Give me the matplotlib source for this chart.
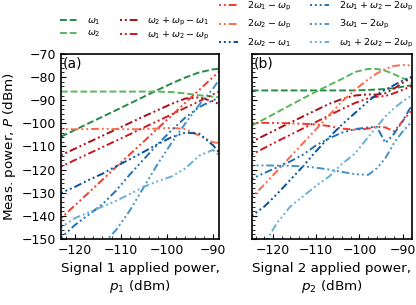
import numpy as np
import matplotlib
matplotlib.use("Agg")
import matplotlib.pyplot as plt
from matplotlib.ticker import AutoMinorLocator

# panel (a): signal 1 power sweep
xa = [-123, -120, -117, -114, -111, -108, -105, -102, -99, -96, -93, -90, -88.6]
a_w1 = [-105.8, -102.9, -100.0, -97.2, -94.3, -91.4, -88.5, -85.6, -82.8, -80.2, -78.0, -76.7, -76.4]
a_w2 = [-86.3, -86.3, -86.3, -86.3, -86.3, -86.3, -86.3, -86.3, -86.5, -87.1, -87.9, -88.5, -88.7]
a_w2pw1 = [-113.8, -111.0, -108.2, -105.4, -102.6, -99.8, -97.0, -94.3, -91.6, -89.3, -88.8, -90.5, -91.8]
a_w1w2p = [-118.7, -115.9, -113.1, -110.3, -107.5, -104.7, -101.8, -99.0, -96.2, -93.3, -90.5, -87.5, -86.2]
a_2w1p = [-141.0, -135.5, -130.0, -124.4, -118.8, -113.3, -107.8, -102.2, -96.7, -91.1, -85.6, -80.0, -77.5]
a_2w2p = [-102.5, -102.6, -102.5, -102.4, -102.5, -102.6, -102.5, -102.3, -102.0, -102.5, -105.3, -108.2, -108.5]
a_2w2w1 = [-130.1, -127.5, -124.5, -121.8, -118.5, -115.5, -112.3, -109.0, -106.0, -104.0, -104.5, -109.5, -112.8]
a_2w1w2 = [-149.5, -144.0, -139.5, -135.0, -129.0, -122.0, -115.5, -109.0, -103.0, -97.5, -93.0, -90.0, -89.0]
a_3w1 = [np.nan, np.nan, np.nan, -152.5, -146.0, -137.5, -127.5, -117.5, -108.5, -100.0, -92.0, -85.0, -81.0]
a_w12w2 = [-145.0, -141.0, -138.5, -136.0, -133.5, -130.5, -127.5, -125.0, -123.0, -119.5, -114.0, -111.5, -114.0]

# panel (b): signal 2 power sweep
xb = [-124.9, -122, -119, -116, -113, -110, -107, -104, -101, -98, -96, -94, -92, -90, -88]
b_w1 = [-85.8, -85.8, -85.8, -85.8, -85.8, -85.8, -85.8, -85.8, -85.8, -85.6, -85.4, -85.2, -84.8, -84.2, -83.6]
b_w2 = [-101.0, -98.2, -95.2, -92.2, -89.2, -86.3, -83.5, -80.8, -77.8, -76.5, -76.5, -77.3, -78.8, -80.5, -82.5]
b_w2pw1 = [-108.0, -105.3, -102.5, -99.7, -97.0, -94.3, -91.6, -89.5, -88.0, -87.5, -87.6, -87.0, -85.0, -82.5, -80.0]
b_w1w2p = [-113.5, -110.7, -107.8, -105.0, -102.2, -99.4, -96.6, -93.8, -91.2, -89.2, -88.5, -88.2, -87.0, -85.5, -84.0]
b_2w1p = [-99.8, -99.8, -99.9, -100.0, -100.2, -100.5, -101.2, -102.3, -102.8, -102.3, -101.5, -101.8, -103.5, -99.0, -94.5]
b_2w2p = [-132.0, -126.5, -120.5, -114.5, -108.5, -102.5, -96.5, -90.5, -85.5, -81.0, -78.5, -76.5, -75.2, -74.8, -75.0]
b_2w2w1 = [-140.0, -136.0, -130.5, -124.5, -118.5, -112.0, -106.0, -100.5, -95.5, -90.5, -87.5, -85.5, -83.5, -81.5, -80.0]
b_2w1w2 = [-124.0, -121.5, -119.0, -116.5, -113.5, -109.5, -106.5, -104.0, -102.5, -101.8, -101.5, -108.5, -104.5, -99.0, -92.5]
b_3w1 = [-118.2, -118.2, -118.3, -118.4, -118.6, -119.2, -120.0, -121.0, -122.0, -122.3, -119.5, -115.0, -108.5, -103.5, -99.5]
b_w12w2 = [np.nan, -152.0, -143.0, -136.0, -131.5, -127.0, -123.0, -117.5, -113.0, -106.0, -101.5, -97.0, -93.5, -90.5, -88.0]

labels = [r'$\omega_1$', r'$\omega_2$',
          r'$\omega_2 + \omega_\mathrm{p} - \omega_1$', r'$\omega_1 + \omega_2 - \omega_\mathrm{p}$',
          r'$2\omega_1 - \omega_\mathrm{p}$', r'$2\omega_2 - \omega_\mathrm{p}$', r'$2\omega_2 - \omega_1$',
          r'$2\omega_1 + \omega_2 - 2\omega_\mathrm{p}$', r'$3\omega_1 - 2\omega_\mathrm{p}$',
          r'$\omega_1 + 2\omega_2 - 2\omega_\mathrm{p}$']
colors = ['#238b45', '#5ab55e',
          '#a50f15', '#cb181d', '#ef3b2c', '#fb6a4a',
          '#08519c', '#2171b5', '#4292c6', '#6baed6']
dash = (0, (3.5, 1.5))
dd = (0, (1, 1.5, 1, 1.5, 4, 1.5))
ddd = (0, (1, 1.5, 1, 1.5, 1, 1.5, 4, 1.5))
styles = [dash, dash, dd, dd, dd, dd, ddd, ddd, ddd, ddd]

data_a = [a_w1, a_w2, a_w2pw1, a_w1w2p, a_2w1p, a_2w2p, a_2w2w1, a_2w1w2, a_3w1, a_w12w2]
data_b = [b_w1, b_w2, b_w2pw1, b_w1w2p, b_2w1p, b_2w2p, b_2w2w1, b_2w1w2, b_3w1, b_w12w2]

fig = plt.figure(figsize=(4.16, 3.05), dpi=100)
ax1 = fig.add_axes([0.1466, 0.2164, 0.381, 0.607])
ax2 = fig.add_axes([0.605, 0.2164, 0.385, 0.607])

lines = []
for y, c, ls in zip(data_a, colors, styles):
    l, = ax1.plot(xa, y, color=c, ls=ls, lw=1.4)
    lines.append(l)
for y, c, ls in zip(data_b, colors, styles):
    ax2.plot(xb, y, color=c, ls=ls, lw=1.4)

ax1.set_xlim(-123, -88.6)
ax2.set_xlim(-124.9, -87.9)
for ax in (ax1, ax2):
    ax.set_ylim(-150, -70)
    ax.set_xticks([-120, -110, -100, -90])
    ax.set_yticks(np.arange(-150, -69, 10))
    ax.xaxis.set_minor_locator(AutoMinorLocator(5))
    ax.yaxis.set_minor_locator(AutoMinorLocator(5))
    ax.tick_params(which='both', direction='in', top=False, right=False, labelsize=9)
    for s in ax.spines.values():
        s.set_linewidth(1.2)
ax2.tick_params(labelleft=False)

ax1.text(0.01, 0.985, '(a)', transform=ax1.transAxes, ha='left', va='top', fontsize=10)
ax2.text(0.01, 0.985, '(b)', transform=ax2.transAxes, ha='left', va='top', fontsize=10)

ax1.set_ylabel(r'Meas. power, $P$ (dBm)', fontsize=9.7, labelpad=3)
ax1.set_xlabel('Signal 1 applied power,\n' + r'$p_1$ (dBm)', fontsize=9.7)
ax2.set_xlabel('Signal 2 applied power,\n' + r'$p_2$ (dBm)', fontsize=9.7)

fig.legend(lines[:4], labels[:4], loc='upper left', bbox_to_anchor=(60 / 416, 1 - 16 / 305),
           ncol=2, frameon=False, fontsize=6.8, borderpad=0, borderaxespad=0,
           handlelength=2.0, handletextpad=0.9, columnspacing=2.0, labelspacing=0.2)
fig.legend(lines[4:], labels[4:], loc='upper left', bbox_to_anchor=(219 / 416, 1.0),
           ncol=2, frameon=False, fontsize=6.8, borderpad=0, borderaxespad=0,
           handlelength=2.0, handletextpad=1.0, columnspacing=2.0, labelspacing=0.55)

fig.savefig('out.png', dpi=100)
